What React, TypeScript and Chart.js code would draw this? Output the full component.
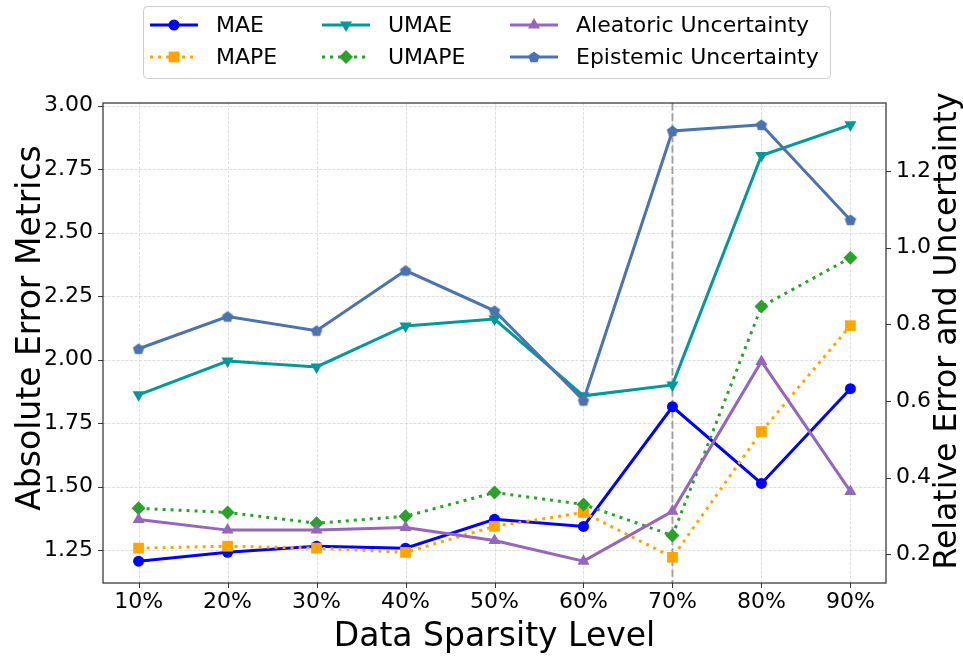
import React, { useEffect, useRef } from 'react';
import { Chart, registerables } from 'chart.js';

Chart.register(...registerables);

// Sparsity levels along the x axis
const levels = ['10%', '20%', '30%', '40%', '50%', '60%', '70%', '80%', '90%'];

// Absolute errors (left axis)
const mae = [1.207, 1.242, 1.266, 1.258, 1.372, 1.344, 1.815, 1.513, 1.886];
const umae = [1.862, 1.995, 1.972, 2.133, 2.160, 1.858, 1.901, 2.804, 2.925];

// Relative errors and uncertainties (right axis)
const mape = [0.216, 0.221, 0.216, 0.205, 0.273, 0.309, 0.192, 0.520, 0.796];
const umape = [0.320, 0.309, 0.281, 0.299, 0.361, 0.330, 0.249, 0.846, 0.973];
const aleatoric = [0.291, 0.263, 0.263, 0.270, 0.236, 0.182, 0.312, 0.703, 0.364];
const epistemic = [0.736, 0.820, 0.783, 0.940, 0.835, 0.601, 1.304, 1.320, 1.072];

// Tick values
const leftTicks = [1.25, 1.5, 1.75, 2.0, 2.25, 2.5, 2.75, 3.0];
const rightTicks = [0.2, 0.4, 0.6, 0.8, 1.0, 1.2];

// Index of the sparsity level marked with a vertical dashed line
const markedLevel = 6;

const FONT = '"DejaVu Sans", "Liberation Sans", sans-serif';

type Series = {
  label: string;
  data: number[];
  axis: 'y' | 'y1';
  color: string;
  dash: number[];
  style: string;
  radius: number;
  rotation?: number;
  order: number;
};

const series: Series[] = [
  { label: 'MAE', data: mae, axis: 'y', color: '#0000ff', dash: [], style: 'circle', radius: 5.5, order: 5 },
  { label: 'MAPE', data: mape, axis: 'y1', color: '#ffa500', dash: [3, 5], style: 'rect', radius: 7.6, order: 3 },
  { label: 'UMAE', data: umae, axis: 'y', color: '#009999', dash: [], style: 'triangle', rotation: 180, radius: 7, order: 4 },
  { label: 'UMAPE', data: umape, axis: 'y1', color: '#2ca02c', dash: [3, 5], style: 'rectRot', radius: 7, order: 2 },
  { label: 'Aleatoric Uncertainty', data: aleatoric, axis: 'y1', color: '#9467bd', dash: [], style: 'triangle', radius: 7, order: 1 },
  { label: 'Epistemic Uncertainty', data: epistemic, axis: 'y1', color: '#4c72b0', dash: [], style: 'pentagon', radius: 6, order: 0 },
];

function paddedRange(values: number[]) {
  const lo = Math.min(...values);
  const hi = Math.max(...values);
  const m = (hi - lo) * 0.05;
  return { min: lo - m, max: hi + m };
}

function pentagonPath(ctx: CanvasRenderingContext2D, cx: number, cy: number, r: number) {
  ctx.beginPath();
  for (let k = 0; k < 5; k++) {
    const a = -Math.PI / 2 + (k * 2 * Math.PI) / 5;
    const px = cx + r * Math.cos(a);
    const py = cy + r * Math.sin(a);
    if (k === 0) ctx.moveTo(px, py);
    else ctx.lineTo(px, py);
  }
  ctx.closePath();
}

function makePentagon(color: string, r: number) {
  const size = Math.ceil(r * 2 + 2);
  const c = document.createElement('canvas');
  c.width = size;
  c.height = size;
  const g = c.getContext('2d')!;
  g.fillStyle = color;
  pentagonPath(g, size / 2, size / 2 + 0.5, r);
  g.fill();
  return c;
}

function drawMarker(ctx: CanvasRenderingContext2D, s: Series, x: number, y: number) {
  const r = s.radius;
  ctx.save();
  ctx.fillStyle = s.color;
  ctx.setLineDash([]);
  ctx.beginPath();
  if (s.style === 'circle') {
    ctx.arc(x, y, r, 0, Math.PI * 2);
  } else if (s.style === 'rect') {
    const h = r * Math.SQRT1_2;
    ctx.rect(x - h, y - h, 2 * h, 2 * h);
  } else if (s.style === 'rectRot') {
    ctx.moveTo(x, y - r);
    ctx.lineTo(x + r, y);
    ctx.lineTo(x, y + r);
    ctx.lineTo(x - r, y);
    ctx.closePath();
  } else if (s.style === 'triangle') {
    let rad = ((s.rotation || 0) * Math.PI) / 180;
    for (let k = 0; k < 3; k++) {
      const px = x + Math.sin(rad) * r;
      const py = y - Math.cos(rad) * r;
      if (k === 0) ctx.moveTo(px, py);
      else ctx.lineTo(px, py);
      rad += (2 * Math.PI) / 3;
    }
    ctx.closePath();
  } else if (s.style === 'pentagon') {
    pentagonPath(ctx, x, y + 0.5, r);
  }
  ctx.fill();
  ctx.restore();
}

const decorPlugin = {
  id: 'decor',
  beforeDatasetsDraw(chart: any) {
    const { ctx, chartArea: a, scales } = chart;
    ctx.save();
    ctx.strokeStyle = 'rgba(200,200,200,0.75)';
    ctx.lineWidth = 0.8;
    ctx.setLineDash([3, 1.5]);
    levels.forEach((_, i) => {
      const x = Math.round(scales.x.getPixelForValue(i)) + 0.5;
      ctx.beginPath();
      ctx.moveTo(x, a.top);
      ctx.lineTo(x, a.bottom);
      ctx.stroke();
    });
    leftTicks.forEach((v) => {
      const y = Math.round(scales.y.getPixelForValue(v)) + 0.5;
      ctx.beginPath();
      ctx.moveTo(a.left, y);
      ctx.lineTo(a.right, y);
      ctx.stroke();
    });
    // threshold marker
    const mx = scales.x.getPixelForValue(markedLevel);
    ctx.strokeStyle = 'rgba(128,128,128,0.7)';
    ctx.lineWidth = 2;
    ctx.setLineDash([7.4, 3.2]);
    ctx.beginPath();
    ctx.moveTo(mx, a.top);
    ctx.lineTo(mx, a.bottom);
    ctx.stroke();
    ctx.restore();
  },
  afterDraw(chart: any) {
    const { ctx, chartArea: a, scales } = chart;
    ctx.save();
    // frame
    ctx.setLineDash([]);
    ctx.strokeStyle = '#333333';
    ctx.lineWidth = 1.25;
    ctx.strokeRect(a.left, a.top, a.right - a.left, a.bottom - a.top);
    // tick marks
    ctx.lineWidth = 1;
    ctx.beginPath();
    leftTicks.forEach((v) => {
      const y = Math.round(scales.y.getPixelForValue(v)) + 0.5;
      ctx.moveTo(a.left - 5, y);
      ctx.lineTo(a.left, y);
    });
    rightTicks.forEach((v) => {
      const y = Math.round(scales.y1.getPixelForValue(v)) + 0.5;
      ctx.moveTo(a.right, y);
      ctx.lineTo(a.right + 5, y);
    });
    levels.forEach((_, i) => {
      const x = Math.round(scales.x.getPixelForValue(i)) + 0.5;
      ctx.moveTo(x, a.bottom);
      ctx.lineTo(x, a.bottom + 5);
    });
    ctx.stroke();

    // axis titles
    ctx.fillStyle = '#000';
    ctx.textAlign = 'center';
    ctx.textBaseline = 'alphabetic';
    ctx.font = `33px ${FONT}`;
    ctx.fillText('Data Sparsity Level', (a.left + a.right) / 2, 646);

    ctx.save();
    ctx.translate(40, 328);
    ctx.rotate(-Math.PI / 2);
    ctx.fillText('Absolute Error Metrics', 0, 0);
    ctx.restore();

    ctx.save();
    ctx.font = `31.5px ${FONT}`;
    ctx.translate(956, 331);
    ctx.rotate(-Math.PI / 2);
    ctx.fillText('Relative Error and Uncertainty', 0, 0);
    ctx.restore();

    // legend
    const box = { x: 143, y: 6, w: 687, h: 72 };
    ctx.fillStyle = 'rgba(255,255,255,0.8)';
    ctx.strokeStyle = '#cccccc';
    ctx.lineWidth = 1;
    ctx.beginPath();
    (ctx as any).roundRect(box.x + 0.5, box.y + 0.5, box.w, box.h, 4);
    ctx.fill();
    ctx.stroke();

    const colX = [150, 322, 510];
    const rowY = [25, 57];
    const handleLen = 48;
    ctx.font = `22px ${FONT}`;
    ctx.textAlign = 'left';
    ctx.textBaseline = 'middle';
    series.forEach((s, i) => {
      const cx = colX[Math.floor(i / 2)];
      const cy = rowY[i % 2];
      ctx.strokeStyle = s.color;
      ctx.lineWidth = 3;
      ctx.lineCap = 'butt';
      ctx.setLineDash(s.dash);
      ctx.beginPath();
      ctx.moveTo(cx, cy);
      ctx.lineTo(cx + handleLen, cy);
      ctx.stroke();
      drawMarker(ctx, s, cx + handleLen / 2, cy);
      ctx.fillStyle = '#000';
      ctx.fillText(s.label, cx + 66, cy + 1);
    });
    ctx.restore();
  },
};

export default function App() {
  const canvasRef = useRef<HTMLCanvasElement | null>(null);

  useEffect(() => {
    const canvas = canvasRef.current;
    if (!canvas) return;

    const leftRange = paddedRange([...mae, ...umae]);
    const rightRange = paddedRange([...mape, ...umape, ...aleatoric, ...epistemic]);

    const datasets = series.map((s) => ({
      label: s.label,
      data: s.data.map((v, i) => ({ x: i, y: v })),
      yAxisID: s.axis,
      borderColor: s.color,
      backgroundColor: s.color,
      borderWidth: 3,
      borderDash: s.dash,
      borderCapStyle: 'butt' as const,
      tension: 0,
      fill: false,
      order: s.order,
      pointStyle: s.style === 'pentagon' ? makePentagon(s.color, s.radius) : s.style,
      pointRotation: s.rotation || 0,
      pointRadius: s.radius,
      pointBackgroundColor: s.color,
      pointBorderColor: s.color,
      pointBorderWidth: 0,
    }));

    const tickFont = { family: FONT, size: 22 };

    const chart = new Chart(canvas, {
      type: 'line',
      data: { datasets: datasets as any },
      plugins: [decorPlugin],
      options: {
        animation: false,
        responsive: true,
        maintainAspectRatio: false,
        events: [],
        layout: { padding: { top: 103, left: 0, right: 0, bottom: 0 } },
        plugins: {
          legend: { display: false },
          tooltip: { enabled: false },
        },
        scales: {
          x: {
            type: 'linear',
            position: 'bottom',
            min: -0.4,
            max: 8.4,
            afterBuildTicks: (s: any) => {
              s.ticks = levels.map((_, i) => ({ value: i }));
            },
            afterFit: (s: any) => {
              s.height = 77;
            },
            ticks: {
              autoSkip: false,
              maxRotation: 0,
              color: '#000',
              font: tickFont,
              padding: 6,
              callback: (v: any) => levels[Math.round(Number(v))] ?? '',
            },
            grid: { display: false, drawTicks: false },
            border: { display: false },
          },
          y: {
            type: 'linear',
            position: 'left',
            min: leftRange.min,
            max: leftRange.max,
            afterBuildTicks: (s: any) => {
              s.ticks = leftTicks.map((v) => ({ value: v }));
            },
            afterFit: (s: any) => {
              s.width = 103;
            },
            ticks: {
              color: '#000',
              font: tickFont,
              padding: 10,
              callback: (v: any) => Number(v).toFixed(2),
            },
            grid: { display: false, drawTicks: false },
            border: { display: false },
          },
          y1: {
            type: 'linear',
            position: 'right',
            min: rightRange.min,
            max: rightRange.max,
            afterBuildTicks: (s: any) => {
              s.ticks = rightTicks.map((v) => ({ value: v }));
            },
            afterFit: (s: any) => {
              s.width = 77;
            },
            ticks: {
              color: '#000',
              font: tickFont,
              padding: 10,
              callback: (v: any) => Number(v).toFixed(1),
            },
            grid: { display: false, drawTicks: false },
            border: { display: false },
          },
        },
      },
    });

    return () => chart.destroy();
  }, []);

  return (
    <div style={{ position: 'fixed', left: 0, top: 0, width: 963, height: 660, background: '#fff' }}>
      <canvas ref={canvasRef} />
    </div>
  );
}
